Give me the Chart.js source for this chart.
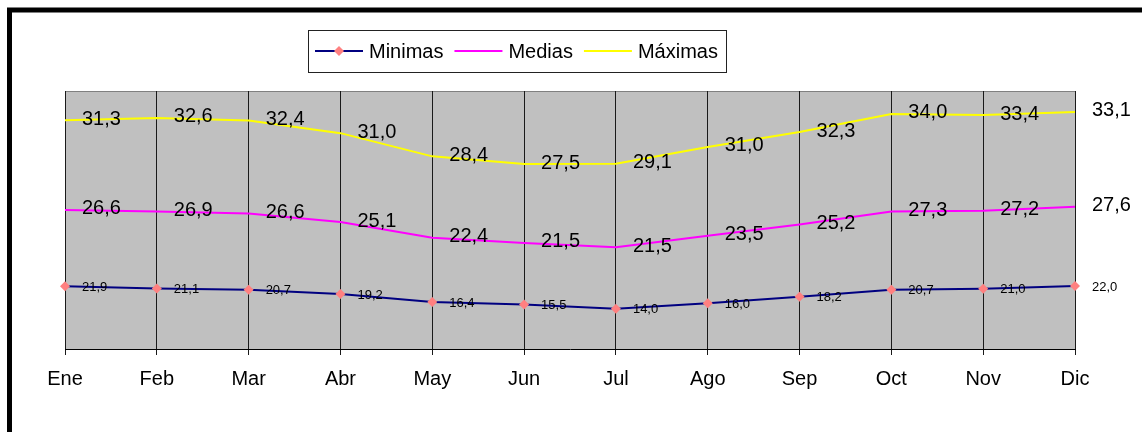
<!DOCTYPE html>
<html>
<head>
<meta charset="utf-8">
<script src="https://cdn.jsdelivr.net/npm/chart.js@4"></script>
<style>
  html, body { margin: 0; padding: 0; background: #fff; }
  #grafico { display: block; }
</style>
</head>
<body>
<canvas id="grafico" width="1142" height="432"></canvas>
<script>
var meses = ['Ene', 'Feb', 'Mar', 'Abr', 'May', 'Jun', 'Jul', 'Ago', 'Sep', 'Oct', 'Nov', 'Dic'];
var minimas = [21.9, 21.1, 20.7, 19.2, 16.4, 15.5, 14.0, 16.0, 18.2, 20.7, 21.0, 22.0];
var medias  = [26.6, 26.9, 26.6, 25.1, 22.4, 21.5, 21.5, 23.5, 25.2, 27.3, 27.2, 27.6];
var maximas = [31.3, 32.6, 32.4, 31.0, 28.4, 27.5, 29.1, 31.0, 32.3, 34.0, 33.4, 33.1];

var fuente = "'Liberation Sans', Arial, sans-serif";

function fmt(v) {
	return v.toFixed(1).replace('.', ',');
}

// fondo gris del area y marco negro exterior
var fondo = {
	id: 'fondo',
	beforeDraw: function(chart) {
		var c = chart.ctx, a = chart.chartArea;
		c.save();
		c.fillStyle = '#fff';
		c.fillRect(0, 0, chart.width, chart.height);
		c.fillStyle = '#c0c0c0';
		c.fillRect(a.left, a.top, a.right - a.left, a.bottom - a.top);
		c.strokeStyle = '#808080';
		c.lineWidth = 1;
		c.beginPath();
		c.moveTo(a.left, a.top + 0.5);
		c.lineTo(a.right, a.top + 0.5);
		c.stroke();
		c.restore();
	},
	afterDraw: function(chart) {
		var c = chart.ctx;
		c.save();
		c.strokeStyle = '#000';
		c.lineWidth = 5;
		c.strokeRect(9.5, 10, 1300, 600);
		c.restore();
	}
};

// etiquetas de valores a la derecha de cada punto
var etiquetas = {
	id: 'etiquetas',
	afterDatasetsDraw: function(chart) {
		var c = chart.ctx;
		c.save();
		c.fillStyle = '#000';
		c.textAlign = 'left';
		c.textBaseline = 'middle';
		chart.data.datasets.forEach(function(ds, i) {
			var meta = chart.getDatasetMeta(i);
			var size = ds.labelSize;
			c.font = size + 'px ' + fuente;
			meta.data.forEach(function(p, j) {
				c.fillText(fmt(ds.data[j]), p.x + 17, p.y + (size < 15 ? 1 : -1));
			});
		});
		c.restore();
	}
};

// leyenda con recuadro
var leyenda = {
	id: 'leyenda',
	afterDraw: function(chart) {
		var c = chart.ctx;
		var y = 51;
		c.save();
		c.fillStyle = '#fff';
		c.fillRect(308, 30, 418, 42);
		c.strokeStyle = '#222';
		c.lineWidth = 1;
		c.strokeRect(308.5, 30.5, 418, 42);
		c.font = '20px ' + fuente;
		c.textBaseline = 'middle';
		c.textAlign = 'left';
		var x = 315;
		chart.data.datasets.forEach(function(ds) {
			c.strokeStyle = ds.borderColor;
			c.lineWidth = 2;
			c.beginPath();
			c.moveTo(x, y);
			c.lineTo(x + 48, y);
			c.stroke();
			if (ds.pointRadius > 0) {
				var cx = x + 24, r = 5;
				c.fillStyle = ds.pointBackgroundColor;
				c.beginPath();
				c.moveTo(cx, y - r);
				c.lineTo(cx + r, y);
				c.lineTo(cx, y + r);
				c.lineTo(cx - r, y);
				c.closePath();
				c.fill();
			}
			c.fillStyle = '#000';
			c.fillText(ds.label, x + 54, y + 1);
			x = x + 54 + c.measureText(ds.label).width + 11;
		});
		c.restore();
	}
};

var ctx = document.getElementById('grafico').getContext('2d');
var chart = new Chart(ctx, {
	type: 'line',
	data: {
		labels: meses,
		datasets: [{
			label: 'Minimas',
			data: minimas,
			borderColor: '#000080',
			borderWidth: 2,
			pointStyle: 'rectRot',
			pointRadius: 5,
			pointBackgroundColor: '#ff8080',
			pointBorderColor: '#ff8080',
			pointBorderWidth: 0,
			labelSize: 13,
			fill: false,
			tension: 0
		}, {
			label: 'Medias',
			data: medias,
			borderColor: '#ff00ff',
			borderWidth: 2,
			pointRadius: 0,
			labelSize: 20,
			fill: false,
			tension: 0
		}, {
			label: 'Máximas',
			data: maximas,
			borderColor: '#ffff00',
			borderWidth: 2,
			pointRadius: 0,
			labelSize: 20,
			fill: false,
			tension: 0
		}]
	},
	options: {
		responsive: false,
		animation: false,
		layout: { padding: { left: 65, right: 67, top: 91, bottom: 0 } },
		plugins: {
			legend: { display: false },
			tooltip: { enabled: false }
		},
		scales: {
			x: {
				offset: false,
				grid: {
					color: '#1a1a1a',
					lineWidth: 1,
					tickLength: 6,
					tickColor: '#1a1a1a'
				},
				border: { color: '#000', width: 1 },
				ticks: {
					color: '#000',
					font: { family: fuente, size: 20 },
					padding: 12,
					maxRotation: 0,
					autoSkip: false
				},
				afterFit: function(scale) { scale.height = 83; }
			},
			y: {
				display: false,
				stacked: true,
				min: 0,
				max: 90
			}
		}
	},
	plugins: [fondo, etiquetas, leyenda]
});
</script>
</body>
</html>
